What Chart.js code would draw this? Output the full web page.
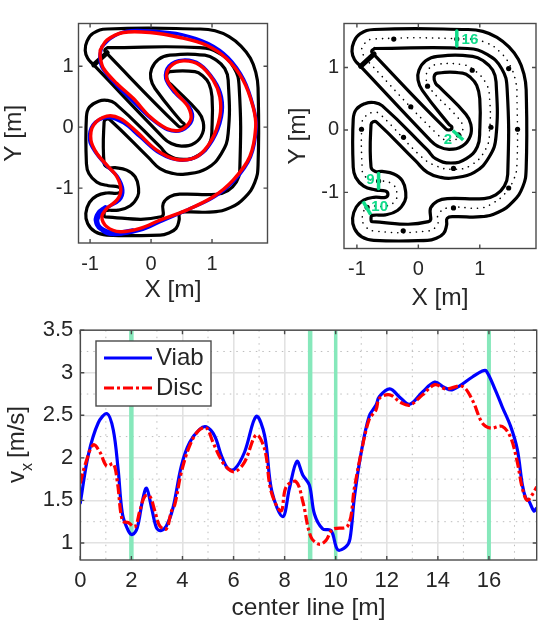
<!DOCTYPE html>
<html>
<head>
<meta charset="utf-8">
<style>
  html, body { margin: 0; padding: 0; background: #fff; }
  canvas { position: absolute; }
</style>
<script src="https://cdn.jsdelivr.net/npm/chart.js@4"></script>
</head>
<body>
<canvas id="trajetoria" style="left:0;top:0" width="280" height="320"></canvas>
<canvas id="pista" style="left:280px;top:0" width="260" height="320"></canvas>
<canvas id="velocidade" style="left:0;top:310px" width="540" height="318"></canvas>
<script>
// Pista: as duas bordas e a linha central, em metros
const bordaExterna = [[-0.94,1.02],[-1.04,1.13],[-1.08,1.26],[-1.05,1.41],[-0.95,1.54],[-0.72,1.61],[0.80,1.61],[1.05,1.58],[1.28,1.485],[1.475,1.33],[1.63,1.13],[1.72,0.89],[1.755,0.645],[1.755,-0.62],[1.70,-0.91],[1.54,-1.15],[1.30,-1.32],[1.02,-1.39],[0.58,-1.39],[0.47,-1.415],[0.46,-1.525],[0.41,-1.66],[0.28,-1.74],[0.15,-1.77],[-0.725,-1.77],[-0.92,-1.715],[-1.04,-1.58],[-1.07,-1.415],[-1.01,-1.235],[-0.89,-1.125],[-0.725,-1.08],[-0.535,-1.08],[-0.495,-1.03],[-0.535,-0.98],[-0.70,-0.96],[-0.89,-0.90],[-1.02,-0.76],[-1.06,-0.595],[-1.06,0.17],[-1.01,0.33],[-0.86,0.425],[-0.725,0.44],[-0.59,0.39],[0.147,-0.32],[0.28,-0.46],[0.53,-0.53],[0.78,-0.46],[0.96,-0.27],[1.0,0.005],[1.0,0.50],[0.95,0.715],[0.855,0.835],[0.72,0.91],[0.31,0.91],[0.256,0.85],[0.283,0.745],[0.34,0.69],[0.775,0.25],[0.855,0.087],[0.845,-0.10],[0.72,-0.257],[0.50,-0.31],[0.31,-0.257],[0.20,-0.17],[-0.94,1.02]];
const bordaInterna = [[-0.715,1.305],[0.80,1.305],[1.12,1.21],[1.357,0.98],[1.445,0.66],[1.455,-0.71],[1.40,-0.90],[1.26,-1.04],[1.07,-1.10],[0.47,-1.10],[0.31,-1.14],[0.20,-1.25],[0.165,-1.47],[-0.75,-1.47],[-0.77,-1.415],[-0.75,-1.37],[-0.535,-1.36],[-0.34,-1.29],[-0.22,-1.14],[-0.205,-1.005],[-0.26,-0.815],[-0.40,-0.705],[-0.59,-0.665],[-0.70,-0.665],[-0.77,-0.595],[-0.77,0.087],[-0.735,0.13],[-0.68,0.125],[-0.044,-0.497],[0.147,-0.68],[0.365,-0.76],[0.555,-0.77],[0.91,-0.68],[1.155,-0.43],[1.265,-0.10],[1.265,0.77],[1.21,0.96],[1.07,1.10],[0.883,1.18],[0.31,1.18],[0.12,1.11],[0.01,0.96],[-0.005,0.80],[0.065,0.634],[0.50,0.087],[0.545,0.05],[0.52,0.005],[0.447,0.016],[-0.725,1.21],[-0.76,1.26],[-0.715,1.305]];
const linhaLargada = [[-0.94,1.02],[-0.72,1.22]];
const linhaCentral = [[-0.84,1.12],[-0.92,1.27],[-0.88,1.38],[-0.74,1.457],[0.8,1.457],[1.1,1.40],[1.33,1.25],[1.5,1.02],[1.59,0.75],[1.605,0.55],[1.605,-0.55],[1.55,-0.80],[1.40,-1.03],[1.2,-1.18],[1.02,-1.25],[0.47,-1.25],[0.32,-1.37],[0.31,-1.52],[0.15,-1.62],[-0.72,-1.62],[-0.88,-1.52],[-0.91,-1.38],[-0.84,-1.24],[-0.72,-1.22],[-0.53,-1.22],[-0.38,-1.14],[-0.35,-1.0],[-0.42,-0.87],[-0.6,-0.815],[-0.72,-0.815],[-0.88,-0.73],[-0.915,-0.6],[-0.915,0.12],[-0.86,0.22],[-0.72,0.285],[-0.62,0.25],[0.05,-0.43],[0.3,-0.58],[0.55,-0.63],[0.85,-0.57],[1.1,-0.3],[1.16,0.0],[1.16,0.5],[1.1,0.75],[0.88,0.98],[0.7,1.05],[0.3,1.05],[0.17,0.98],[0.13,0.85],[0.17,0.69],[0.65,0.19],[0.72,0.06],[0.68,-0.1],[0.5,-0.17],[0.32,-0.08],[-0.84,1.12]];
const marcosCentral = [[-0.40,1.457],[0.626,1.457],[1.47,0.984],[1.615,0.011],[1.47,-0.93],[0.572,-1.25],[-0.246,-1.617],[-0.834,-1.239],[-0.647,-0.819],[-0.925,0.011],[-0.241,-0.117],[0.572,-0.617],[1.182,0.043],[0.877,0.957],[0.15,0.702],[0.652,-0.08],[-0.123,0.372]];

// Trajetorias no plano
const trajViab = [[-0.807,1.317],[-0.67,1.454],[-0.398,1.574],[0.038,1.574],[0.501,1.519],[0.937,1.372],[1.265,1.14],[1.52,0.78],[1.678,0.333],[1.725,0.005],[1.632,-0.486],[1.36,-0.882],[1.03,-1.148],[0.60,-1.355],[0.147,-1.552],[-0.18,-1.689],[-0.589,-1.76],[-0.779,-1.716],[-0.877,-1.525],[-0.736,-1.333],[-0.518,-1.197],[-0.463,-1.033],[-0.55,-0.814],[-0.736,-0.623],[-0.916,-0.404],[-1.008,-0.213],[-0.954,0.033],[-0.725,0.158],[-0.452,0.071],[-0.18,-0.158],[0.147,-0.43],[0.474,-0.541],[0.78,-0.47],[1.01,-0.213],[1.155,0.169],[1.155,0.497],[1.035,0.77],[0.801,1.03],[0.529,1.10],[0.295,1.005],[0.24,0.798],[0.39,0.565],[0.63,0.333],[0.672,0.115],[0.51,-0.049],[0.27,-0.04],[-0.016,0.155],[-0.30,0.43],[-0.575,0.70],[-0.795,0.962],[-0.84,1.153],[-0.807,1.317]];
const trajViabVoltaExtra = [[-0.30,-1.70],[-0.62,-1.74],[-0.83,-1.66],[-0.90,-1.53],[-0.86,-1.41],[-0.75,-1.32]];
const trajDisc = [[-0.834,1.262],[-0.725,1.426],[-0.452,1.552],[-0.016,1.552],[0.474,1.47],[0.91,1.344],[1.237,1.126],[1.51,0.77],[1.673,0.333],[1.717,0.005],[1.619,-0.486],[1.346,-0.869],[1.019,-1.142],[0.583,-1.361],[0.147,-1.525],[-0.18,-1.661],[-0.507,-1.716],[-0.725,-1.634],[-0.807,-1.47],[-0.725,-1.333],[-0.561,-1.197],[-0.496,-1.033],[-0.561,-0.814],[-0.725,-0.623],[-0.888,-0.432],[-0.986,-0.213],[-0.943,0.033],[-0.725,0.18],[-0.507,0.142],[-0.234,-0.077],[0.093,-0.377],[0.42,-0.53],[0.747,-0.486],[0.992,-0.213],[1.128,0.169],[1.128,0.497],[1.019,0.77],[0.801,1.016],[0.529,1.087],[0.311,0.989],[0.256,0.798],[0.42,0.552],[0.61,0.333],[0.649,0.115],[0.474,-0.049],[0.256,-0.022],[-0.016,0.169],[-0.289,0.47],[-0.561,0.716],[-0.779,0.962],[-0.834,1.153],[-0.834,1.262]];

// Marcas verdes na pista
const marcasPista = [
  { rotulo: '2',  linha: [[0.56,-0.01],[0.73,-0.16]],    texto: [0.48,-0.16] },
  { rotulo: '16', linha: [[0.626,1.585],[0.626,1.346]],  texto: [0.84,1.45] },
  { rotulo: '9',  linha: [[-0.647,-0.70],[-0.647,-0.94]], texto: [-0.78,-0.80] },
  { rotulo: '10', linha: [[-0.90,-1.144],[-0.775,-1.356]], texto: [-0.63,-1.234] }
];

// Velocidade ao longo da linha central
const velViab = [[0,1.47],[0.31,2.03],[0.70,2.41],[1.05,2.52],[1.29,2.33],[1.48,1.87],[1.65,1.34],[1.875,1.146],[2.03,1.10],[2.23,1.18],[2.43,1.49],[2.59,1.644],[2.79,1.414],[2.98,1.18],[3.15,1.146],[3.37,1.20],[3.63,1.414],[3.96,1.91],[4.28,2.18],[4.67,2.334],[4.93,2.365],[5.26,2.258],[5.52,2.03],[5.78,1.874],[6.04,1.867],[6.43,2.066],[6.89,2.488],[7.22,2.258],[7.5,1.606],[7.93,1.31],[8.19,1.644],[8.48,1.96],[8.71,1.80],[8.97,1.68],[9.17,1.337],[9.49,1.165],[9.82,1.146],[10.08,0.92],[10.40,0.955],[10.56,1.05],[10.73,1.53],[10.99,2.05],[11.31,2.49],[11.58,2.62],[11.71,2.72],[12.12,2.81],[12.55,2.70],[12.9,2.63],[13.4,2.775],[13.88,2.89],[14.24,2.83],[14.57,2.80],[15.35,2.95],[15.74,3.02],[15.9,3.02],[16.26,2.79],[16.52,2.60],[16.85,2.37],[17.11,2.10],[17.31,1.68],[17.44,1.53],[17.57,1.49],[17.76,1.376],[17.87,1.41]];
const velDisc = [[0,1.7],[0.18,1.91],[0.51,2.154],[0.77,2.066],[1.03,1.905],[1.29,1.93],[1.45,1.72],[1.65,1.26],[1.875,1.24],[2.14,1.19],[2.33,1.376],[2.53,1.55],[2.72,1.55],[2.92,1.376],[3.11,1.20],[3.37,1.165],[3.57,1.376],[3.70,1.45],[3.96,1.836],[4.28,2.14],[4.61,2.315],[4.93,2.354],[5.2,2.18],[5.46,2.01],[5.72,1.89],[6.04,1.836],[6.43,1.95],[6.89,2.27],[7.22,2.10],[7.47,1.606],[7.86,1.376],[8.06,1.66],[8.45,1.72],[8.71,1.49],[9.03,1.07],[9.36,0.985],[9.62,1.03],[9.88,1.16],[10.47,1.20],[10.73,1.644],[10.99,2.05],[11.31,2.45],[11.58,2.565],[11.71,2.70],[12.12,2.74],[12.55,2.65],[12.9,2.62],[13.4,2.74],[13.88,2.86],[14.31,2.81],[14.96,2.84],[15.35,2.68],[15.74,2.41],[16.07,2.35],[16.52,2.37],[16.85,2.24],[17.11,1.95],[17.31,1.64],[17.5,1.5],[17.7,1.57],[17.87,1.66]];
const posicoesMarcas = [2, 9, 10, 16];
const largurasMarcas = [4.5, 4.5, 3.5, 4];

// Eixos
const ticksPlano = [-1, 0, 1];
const ticksVelX = [0, 2, 4, 6, 8, 10, 12, 14, 16];
const ticksVelY = [1, 1.5, 2, 2.5, 3, 3.5];
const menoresVelX = [1, 3, 5, 7, 9, 11, 13, 15, 17];
const menoresVelY = [1.25, 1.75, 2.25, 2.75, 3.25];

const FONTE = '"Liberation Sans", Arial, sans-serif';
const COR_TEXTO = '#262626';
const COR_CAIXA = '#4a4a4a';
const VERDE_TEXTO = '#0fdc8a';
const VERDE_FAIXA = '#86e8bb';
const TENSAO_PISTA = 0.45;

const xy = pts => pts.map(p => ({ x: p[0], y: p[1] }));

function linha(pts, cor, largura, extra) {
    return Object.assign({
        data: xy(pts), showLine: true, borderColor: cor, borderWidth: largura,
        pointRadius: 0, tension: 0.35, borderJoinStyle: 'round', borderCapStyle: 'round', fill: false
    }, extra || {});
}

function borda(pts) {
    return linha(pts, '#000000', 3.2, { tension: TENSAO_PISTA });
}

// Moldura com ticks para dentro nos quatro lados
const moldura = {
    id: 'moldura',
    afterDatasetsDraw(chart) {
        const { ctx, chartArea: a, scales: { x, y } } = chart;
        ctx.save();
        ctx.strokeStyle = COR_CAIXA;
        ctx.lineWidth = 1.4;
        ctx.strokeRect(a.left, a.top, a.right - a.left, a.bottom - a.top);
        ctx.beginPath();
        x.ticks.forEach(t => {
            const px = x.getPixelForValue(t.value);
            ctx.moveTo(px, a.bottom); ctx.lineTo(px, a.bottom - 4);
            ctx.moveTo(px, a.top); ctx.lineTo(px, a.top + 4);
        });
        y.ticks.forEach(t => {
            const py = y.getPixelForValue(t.value);
            ctx.moveTo(a.left, py); ctx.lineTo(a.left + 4, py);
            ctx.moveTo(a.right, py); ctx.lineTo(a.right - 4, py);
        });
        ctx.stroke();
        ctx.restore();
    }
};

function opcoes(cv, caixa, limX, limY, ticksX, ticksY, eixos) {
    return {
        responsive: false,
        animation: false,
        layout: { padding: { left: 0, top: caixa.top - cv.top, right: cv.right - caixa.right, bottom: 0 } },
        plugins: { legend: { display: false }, tooltip: { enabled: false } },
        scales: {
            x: {
                type: 'linear', min: limX[0], max: limX[1],
                afterBuildTicks: s => { s.ticks = ticksX.map(v => ({ value: v })); },
                afterFit: s => { s.height = cv.bottom - caixa.bottom; },
                grid: { display: false, drawTicks: false },
                border: { display: false },
                ticks: { color: COR_TEXTO, font: { family: FONTE, size: eixos.fonteTick }, padding: eixos.padTickX, maxRotation: 0, autoSkip: false, callback: v => String(v) },
                title: { display: true, text: eixos.tituloX, color: COR_TEXTO, font: { family: FONTE, size: eixos.fonteTitulo }, padding: { top: 0, bottom: eixos.padTituloX } }
            },
            y: {
                type: 'linear', min: limY[0], max: limY[1],
                afterBuildTicks: s => { s.ticks = ticksY.map(v => ({ value: v })); },
                afterFit: s => { s.width = caixa.left - cv.left; },
                grid: { display: false, drawTicks: false },
                border: { display: false },
                ticks: { color: COR_TEXTO, font: { family: FONTE, size: eixos.fonteTick }, padding: eixos.padTickY, autoSkip: false, callback: v => String(v) },
                title: { display: !!eixos.tituloY, text: eixos.tituloY, color: COR_TEXTO, font: { family: FONTE, size: eixos.fonteTitulo }, padding: { top: eixos.padTituloY, bottom: 0 } }
            }
        }
    };
}

// Grafico da esquerda: trajetorias
new Chart(document.getElementById('trajetoria'), {
    type: 'scatter',
    data: {
        datasets: [
            linha(trajDisc, '#ff0000', 3.4),
            linha(trajViab, '#0000ff', 3.4),
            linha(trajViabVoltaExtra, '#0000ff', 5),
            borda(bordaExterna),
            borda(bordaInterna),
            linha(linhaLargada, '#000000', 5, { tension: 0 })
        ]
    },
    options: opcoes({ left: 0, top: 0, right: 280, bottom: 320 },
        { left: 78.5, top: 23.5, right: 267.5, bottom: 243 },
        [-1.19, 1.91], [-1.90, 1.70], ticksPlano, ticksPlano,
        { tituloX: 'X [m]', tituloY: 'Y [m]', fonteTick: 20, fonteTitulo: 24.5, padTickX: 9, padTickY: 5, padTituloX: 15, padTituloY: 0 }),
    plugins: [moldura]
});

// Rotulos verdes da pista
const rotulosPista = {
    id: 'rotulosPista',
    afterDatasetsDraw(chart) {
        const { ctx, scales: { x, y } } = chart;
        ctx.save();
        ctx.fillStyle = VERDE_TEXTO;
        ctx.font = 'bold 15px ' + FONTE;
        ctx.textAlign = 'center';
        ctx.textBaseline = 'middle';
        marcasPista.forEach(m => ctx.fillText(m.rotulo, x.getPixelForValue(m.texto[0]), y.getPixelForValue(m.texto[1])));
        ctx.restore();
    }
};

// Grafico da direita: pista com marcas
new Chart(document.getElementById('pista'), {
    type: 'scatter',
    data: {
        datasets: [
            ...marcasPista.map(m => linha(m.linha, VERDE_TEXTO, 3.5, { tension: 0, borderCapStyle: 'butt' })),
            { data: xy(marcosCentral), pointRadius: 2.6, pointBackgroundColor: '#000', pointBorderWidth: 0, showLine: false },
            linha(linhaCentral, '#000000', 1.6, { borderDash: [0.1, 6.2], tension: TENSAO_PISTA }),
            borda(bordaExterna),
            borda(bordaInterna),
            linha(linhaLargada, '#000000', 5, { tension: 0 })
        ]
    },
    options: opcoes({ left: 280, top: 0, right: 540, bottom: 320 },
        { left: 344, top: 23.5, right: 538.5, bottom: 248.5 },
        [-1.21, 1.915], [-1.90, 1.706], ticksPlano, ticksPlano,
        { tituloX: 'X [m]', tituloY: 'Y [m]', fonteTick: 20, fonteTitulo: 24.5, padTickX: 9, padTickY: 5, padTituloX: 7, padTituloY: 4 }),
    plugins: [moldura, rotulosPista]
});

// Grade menor pontilhada
const gradeVel = {
    id: 'gradeVel',
    beforeDatasetsDraw(chart) {
        const { ctx, chartArea: a, scales: { x, y } } = chart;
        ctx.save();
        ctx.strokeStyle = '#bdbdbd';
        ctx.lineWidth = 1;
        ctx.setLineDash([1.5, 5]);
        ctx.beginPath();
        menoresVelX.forEach(v => { const p = x.getPixelForValue(v); ctx.moveTo(p, a.top); ctx.lineTo(p, a.bottom); });
        menoresVelY.forEach(v => { const p = y.getPixelForValue(v); ctx.moveTo(a.left, p); ctx.lineTo(a.right, p); });
        ctx.stroke();
        ctx.restore();
    }
};

// Legenda e titulo do eixo y com subscrito
const legendaVel = {
    id: 'legendaVel',
    afterDraw(chart) {
        const { ctx } = chart;
        ctx.save();
        ctx.fillStyle = '#fff';
        ctx.strokeStyle = COR_CAIXA;
        ctx.lineWidth = 1.4;
        ctx.fillRect(96, 31, 115, 65);
        ctx.strokeRect(96, 31, 115, 65);
        ctx.lineCap = 'butt';
        ctx.lineWidth = 3.2;
        ctx.strokeStyle = '#0000ff';
        ctx.beginPath(); ctx.moveTo(104, 48); ctx.lineTo(152, 48); ctx.stroke();
        ctx.strokeStyle = '#ff0000';
        ctx.setLineDash([10, 3, 3, 3]);
        ctx.beginPath(); ctx.moveTo(104, 78); ctx.lineTo(152, 78); ctx.stroke();
        ctx.setLineDash([]);
        ctx.fillStyle = COR_TEXTO;
        ctx.font = '24px ' + FONTE;
        ctx.textBaseline = 'middle';
        ctx.fillText('Viab', 156, 48);
        ctx.fillText('Disc', 156, 78);
        ctx.textBaseline = 'alphabetic';
        ctx.translate(24, 173);
        ctx.rotate(-Math.PI / 2);
        ctx.textAlign = 'left';
        ctx.fillText('v', 0, 0);
        ctx.font = '16px ' + FONTE;
        ctx.fillText('x', 12, 8);
        ctx.font = '24px ' + FONTE;
        ctx.fillText('[m/s]', 25, 0);
        ctx.restore();
    }
};

// Grafico de baixo: velocidade
const opcoesVel = opcoes({ left: 0, top: 310, right: 540, bottom: 628 },
    { left: 80.3, top: 325.3, right: 536.7, bottom: 560 },
    [0, 17.87], [0.8, 3.5], ticksVelX, ticksVelY,
    { tituloX: 'center line [m]', tituloY: '', fonteTick: 22, fonteTitulo: 24.5, padTickX: 8, padTickY: 7, padTituloX: 5, padTituloY: 0 });
['x', 'y'].forEach(e => {
    opcoesVel.scales[e].grid = {
        display: true, drawTicks: false, color: '#e2e2e2', lineWidth: 1.6
    };
});

new Chart(document.getElementById('velocidade'), {
    type: 'scatter',
    data: {
        datasets: [
            linha(velDisc, '#ff0000', 3.2, { borderDash: [10, 3, 3, 3], borderCapStyle: 'butt' }),
            linha(velViab, '#0000ff', 3.2),
            ...posicoesMarcas.map((p, i) => linha([[p, 0.8], [p, 3.5]], VERDE_FAIXA, largurasMarcas[i], { tension: 0, borderCapStyle: 'butt' }))
        ]
    },
    options: opcoesVel,
    plugins: [gradeVel, moldura, legendaVel]
});
</script>
</body>
</html>
